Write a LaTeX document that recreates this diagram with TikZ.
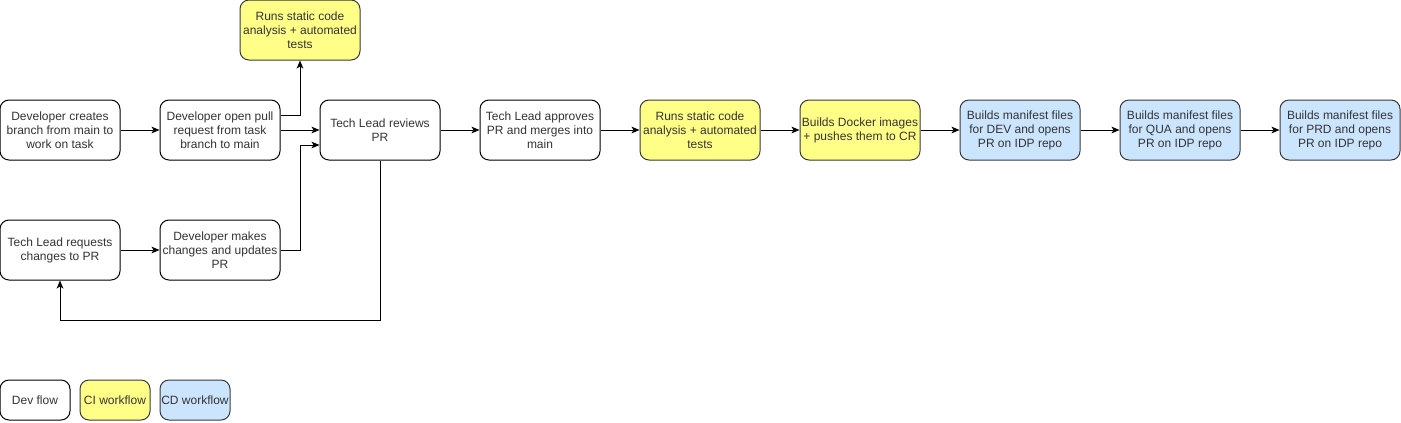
\documentclass[tikz,border=0pt]{standalone}
\usepackage{fontspec}
\setmainfont{Liberation Sans}
\usetikzlibrary{arrows.meta}
\definecolor{ciyellow}{HTML}{FFFF88}
\definecolor{cdblue}{HTML}{CCE5FF}
\definecolor{darkstroke}{HTML}{36393D}
\definecolor{txt}{HTML}{333333}
\begin{document}
\begin{tikzpicture}[x=0.75pt,y=-0.75pt,
  box/.style={draw=black, line width=0.75pt, rounded corners=6.75pt, fill=white,
    minimum width=90pt, minimum height=45pt, inner sep=0pt, align=center,
    font=\fontsize{9pt}{10.5pt}\selectfont, text=txt},
  cibox/.style={box, draw=darkstroke, fill=ciyellow},
  cdbox/.style={box, draw=darkstroke, fill=cdblue},
  legbox/.style={minimum width=52.5pt, minimum height=30pt},
  conn/.style={draw=black, line width=0.75pt, -{Stealth[length=6pt,width=5pt,inset=1.5pt]}}]
\useasboundingbox (0,0) rectangle (1401,422);
\node[box] (create) at (60,130) {Developer creates\\branch from main to\\work on task};
\node[box] (open) at (220,130) {Developer open pull\\request from task\\branch to main};
\node[cibox] (topci) at (300,30) {Runs static code\\analysis + automated\\tests};
\node[box] (review) at (380,130) {Tech Lead reviews\\PR};
\node[box] (approve) at (540,130) {Tech Lead approves\\PR and merges into\\main};
\node[cibox] (ci) at (700,130) {Runs static code\\analysis + automated\\tests};
\node[cibox] (docker) at (860,130) {Builds Docker images\\+ pushes them to CR};
\node[cdbox] (dev) at (1020,130) {Builds manifest files\\for DEV and opens\\PR on IDP repo};
\node[cdbox] (qua) at (1180,130) {Builds manifest files\\for QUA and opens\\PR on IDP repo};
\node[cdbox] (prd) at (1340,130) {Builds manifest files\\for PRD and opens\\PR on IDP repo};
\node[box] (request) at (60,250) {Tech Lead requests\\changes to PR};
\node[box] (makes) at (220,250) {Developer makes\\changes and updates\\PR};
\node[box,legbox] (legdev) at (35,400) {Dev flow};
\node[cibox,legbox] (legci) at (115,400) {CI workflow};
\node[cdbox,legbox] (legcd) at (195,400) {CD workflow};

\draw[conn] (create) -- (open);
\draw[conn] (open.east |- 0,115) -- (300,115) -- (topci.south);
\draw[conn] (open) -- (review);
\draw[conn] (makes) -- (300,250) -- (300,145) -- (review.west |- 0,145);
\draw[conn] (review.south) -- (380,320) -- (60,320) -- (request.south);
\draw[conn] (request) -- (makes);
\draw[conn] (review) -- (approve);
\draw[conn] (approve) -- (ci);
\draw[conn] (ci) -- (docker);
\draw[conn] (docker) -- (dev);
\draw[conn] (dev) -- (qua);
\draw[conn] (qua) -- (prd);
\end{tikzpicture}
\end{document}
